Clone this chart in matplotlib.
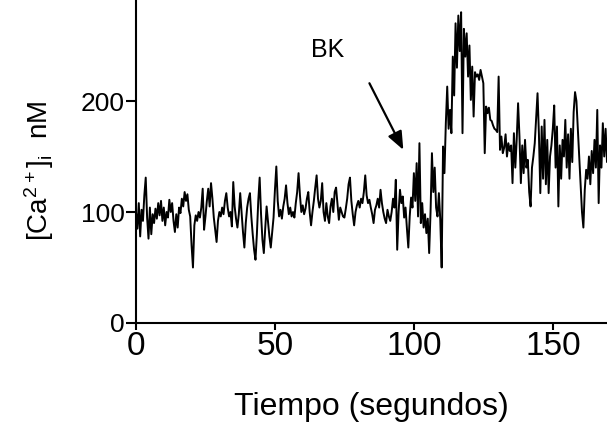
import numpy as np
import matplotlib
matplotlib.use("Agg")
import matplotlib.pyplot as plt

plt.rcParams['font.family'] = ['Liberation Sans', 'DejaVu Sans']
plt.rcParams['mathtext.default'] = 'regular'

# time axis (s), sampled every 0.5 s
t = np.arange(0, 170.5, 0.5)

# [Ca2+]i (nM), 0.5 s apart
ca_000_010 = [100, 85, 108, 78, 102, 92, 115, 131, 95, 76, 104, 80, 98, 90, 103, 94, 108, 97, 110, 92]
ca_010_020 = [104, 88, 100, 95, 111, 100, 108, 92, 82, 98, 86, 104, 99, 112, 105, 118, 110, 116, 102, 96]
ca_020_030 = [70, 50, 88, 97, 92, 100, 95, 104, 121, 84, 96, 110, 121, 105, 126, 112, 95, 84, 73, 92]
ca_030_040 = [100, 96, 104, 98, 110, 117, 104, 96, 100, 87, 127, 105, 94, 86, 98, 117, 100, 82, 68, 90]
ca_040_050 = [104, 112, 117, 96, 80, 66, 57, 80, 110, 131, 98, 75, 63, 85, 105, 92, 78, 68, 82, 95]
ca_050_060 = [120, 141, 110, 96, 102, 94, 105, 112, 124, 108, 98, 104, 96, 100, 95, 108, 118, 135, 115, 100]
ca_060_070 = [106, 98, 103, 112, 118, 100, 88, 100, 110, 122, 133, 112, 104, 110, 126, 100, 92, 108, 96, 90]
ca_070_080 = [105, 112, 100, 118, 122, 108, 93, 104, 100, 96, 95, 103, 112, 125, 131, 110, 98, 88, 100, 106]
ca_080_090 = [110, 104, 112, 108, 118, 133, 115, 108, 111, 104, 98, 90, 102, 106, 112, 104, 120, 108, 100, 94]
ca_090_100 = [90, 102, 96, 92, 100, 112, 104, 129, 66, 100, 120, 108, 114, 95, 104, 85, 68, 96, 113, 104]
ca_100_110 = [135, 110, 144, 96, 162, 90, 108, 86, 98, 81, 94, 63, 100, 153, 118, 140, 104, 96, 117, 93]
ca_110_120 = [50, 159, 135, 180, 213, 175, 192, 171, 240, 205, 270, 230, 277, 245, 280, 171, 265, 240, 261, 222]
ca_120_130 = [250, 201, 231, 186, 226, 222, 224, 219, 228, 222, 216, 153, 195, 189, 194, 183, 182, 178, 175, 174]
ca_130_140 = [172, 222, 156, 168, 153, 158, 170, 150, 162, 155, 160, 126, 171, 140, 165, 198, 168, 126, 160, 135]
ca_140_150 = [165, 140, 147, 118, 105, 140, 150, 162, 185, 207, 170, 117, 177, 130, 183, 125, 165, 117, 150, 160]
ca_150_160 = [175, 196, 140, 177, 105, 160, 130, 165, 150, 183, 140, 170, 130, 175, 145, 190, 208, 200, 175, 150]
ca_160_170 = [125, 100, 86, 120, 138, 130, 150, 125, 155, 135, 165, 140, 192, 108, 160, 140, 180, 150, 175, 145, 162]

ca = (ca_000_010 + ca_010_020 + ca_020_030 + ca_030_040 + ca_040_050 + ca_050_060
      + ca_060_070 + ca_070_080 + ca_080_090 + ca_090_100 + ca_100_110 + ca_110_120
      + ca_120_130 + ca_130_140 + ca_140_150 + ca_150_160 + ca_160_170)

x_ticks = [0, 50, 100, 150]
y_ticks = [0, 100, 200]

fig = plt.figure(figsize=(6.07, 4.32), dpi=100)
ax = fig.add_axes([136 / 607, 109 / 432, 471 / 607, 323 / 432])
ax.plot(t, ca, color='black', lw=1.4)

ax.set_xlim(0, 169.5)
ax.set_ylim(0, 291)
ax.set_xticks(x_ticks)
ax.set_yticks(y_ticks)
for s in ['top', 'right']:
    ax.spines[s].set_visible(False)
for s in ['left', 'bottom']:
    ax.spines[s].set_linewidth(1.5)
ax.tick_params(axis='y', direction='out', length=7, width=1.5, labelsize=19, pad=1)
ax.tick_params(axis='x', direction='out', length=5, width=1.5, labelsize=24, pad=1)

ax.set_xlabel('Tiempo (segundos)', fontsize=23, va='center')
ax.xaxis.set_label_coords(0.5, -0.26)
ax.set_ylabel(r'[Ca$^{2+}$]$_{i}$  nM', fontsize=20, va='center')
ax.yaxis.set_label_coords(-0.205, 0.47)

ax.annotate('', xy=(96.2, 156), xytext=(84, 216),
            arrowprops=dict(arrowstyle='-|>,head_length=1.1,head_width=0.45',
                            color='black', lw=1.6, shrinkA=0, shrinkB=0))
ax.text(69, 246, 'BK', fontsize=18, ha='center', va='center')

fig.savefig('out.png', dpi=100)
